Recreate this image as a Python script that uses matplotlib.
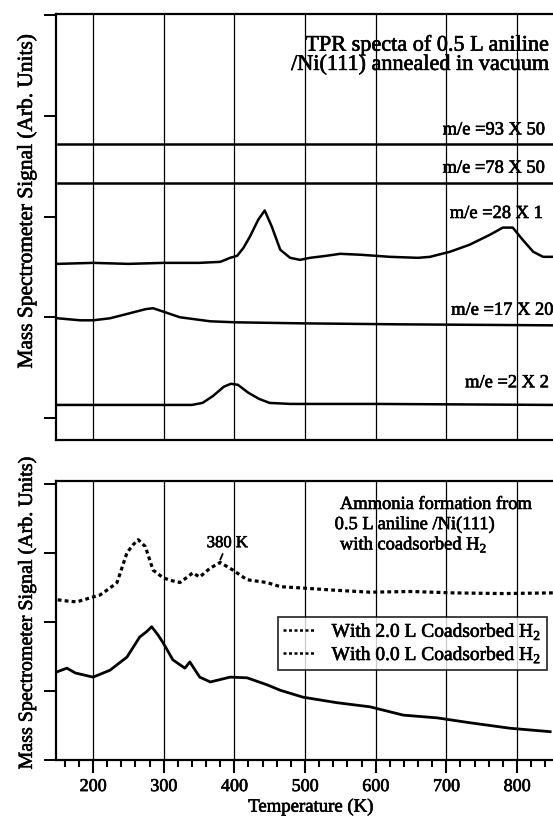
#TPR spectra of aniline on Ni(111): two stacked panels sharing a temperature axis.

import numpy as np
from matplotlib import pyplot as plt
from matplotlib.lines import Line2D
import matplotlib.patheffects as pe

#############################################################################################
#DATA
#############################################################################################

# top panel: flat traces
temp_flat = [150, 851]
me93 = [2.72, 2.72]
me78 = [2.33, 2.33]

# m/e = 28 X 1
temp_28 = [150, 200, 250, 300, 350, 380, 394, 404, 413, 422, 434, 443, 453, 465,
           479, 493, 507, 530, 550, 580, 620, 660, 677, 705, 733, 762, 780,
           794, 808, 823, 837, 851]
me28 = [1.53, 1.54, 1.53, 1.54, 1.54, 1.55, 1.59, 1.61, 1.69, 1.80, 1.97, 2.06, 1.90, 1.67,
        1.59, 1.57, 1.59, 1.61, 1.63, 1.62, 1.60, 1.59, 1.60, 1.65, 1.72, 1.82, 1.89,
        1.89, 1.77, 1.65, 1.60, 1.60]

# m/e = 17 X 20
temp_17 = [150, 182, 200, 224, 252, 274, 285, 302, 323, 366, 402, 493, 634, 851]
me17 = [0.99, 0.97, 0.97, 0.99, 1.04, 1.08, 1.09, 1.05, 1.00, 0.96, 0.95, 0.94, 0.93, 0.92]

# m/e = 2 X 2
temp_2 = [150, 250, 340, 355, 370, 385, 395, 405, 420, 435, 450, 480, 600, 851]
me2 = [0.13, 0.13, 0.13, 0.15, 0.22, 0.31, 0.34, 0.33, 0.25, 0.19, 0.15, 0.14, 0.14, 0.13]

# bottom panel: ammonia, with 2.0 L coadsorbed H2 (dotted)
temp_h2 = [150, 165, 177, 200, 210, 224, 234, 248, 257, 264, 274, 285, 299, 310,
           323, 335, 341, 351, 366, 380, 398, 418, 446, 465, 497, 540, 592, 650,
           709, 780, 851]
nh3_h2 = [2.32, 2.30, 2.29, 2.36, 2.39, 2.49, 2.57, 3.00, 3.12, 3.19, 3.09, 2.75, 2.64, 2.60,
          2.57, 2.66, 2.71, 2.65, 2.78, 2.86, 2.75, 2.61, 2.57, 2.51, 2.49, 2.46, 2.43, 2.44,
          2.42, 2.41, 2.42]

# bottom panel: ammonia, no coadsorbed H2 (solid)
temp_noh2 = [150, 163, 175, 200, 224, 248, 266, 276, 283, 292, 299, 313, 330, 337,
             351, 366, 394, 418, 446, 465, 497, 545, 592, 639, 687, 733, 790, 847]
nh3_noh2 = [1.28, 1.33, 1.26, 1.20, 1.30, 1.49, 1.78, 1.86, 1.93, 1.81, 1.70, 1.45, 1.33, 1.42,
            1.20, 1.13, 1.20, 1.19, 1.09, 1.01, 0.91, 0.83, 0.77, 0.65, 0.61, 0.54, 0.46, 0.41]

grid_temps = [200, 300, 400, 500, 600, 700, 800]
legend_labels = ['With 2.0 L Coadsorbed H$_2$', 'With 0.0 L Coadsorbed H$_2$']

#############################################################################################
#PLOTTING
#############################################################################################

plt.rcParams['font.family'] = ['Liberation Serif', 'DejaVu Serif']
plt.rcParams['mathtext.fontset'] = 'custom'
plt.rcParams['mathtext.rm'] = 'Liberation Serif'

# scanned print look: thicken the glyphs a little
heavy = [pe.withStroke(linewidth=0.45, foreground='black')]

W, H = 553, 817
fig = plt.figure(figsize=(W/100, H/100), dpi=100)

def px_axes(left, top, right, bottom):
    return fig.add_axes([left/W, 1-bottom/H, (right-left)/W, (bottom-top)/H])

ax1 = px_axes(56, 14, 553, 440)
ax2 = px_axes(56, 481, 553, 760)

for ax in (ax1, ax2):
    ax.set_xlim(147.6, 851)
    for s in ('left', 'top', 'bottom'):
        ax.spines[s].set_linewidth(1.6)
    ax.spines['right'].set_visible(False)
    for t in grid_temps:
        ax.axvline(t, color='black', lw=0.9, zorder=1)
    ax.tick_params(axis='y', direction='out', length=9, width=1.4, labelleft=False)

# top panel
ax1.set_ylim(-0.218, 4.01)
ax1.set_yticks([0, 1, 2, 3, 4])
ax1.tick_params(axis='x', bottom=False, labelbottom=False)
lw = 1.8
ax1.plot(temp_flat, me93, 'k-', lw=lw, zorder=3)
ax1.plot(temp_flat, me78, 'k-', lw=lw, zorder=3)
ax1.plot(temp_28, me28, 'k-', lw=lw, zorder=3)
ax1.plot(temp_17, me17, 'k-', lw=lw, zorder=3)
ax1.plot(temp_2, me2, 'k-', lw=lw, zorder=3)

ax1.text(846, 3.60, 'TPR specta of 0.5 L aniline\n/Ni(111) annealed in vacuum',
         ha='right', va='center', fontsize=16, linespacing=1.0, path_effects=heavy)
lab = dict(ha='right', va='center', fontsize=13.3, path_effects=heavy)
ax1.text(840, 2.86, 'm/e =93 X 50', **lab)
ax1.text(840, 2.48, 'm/e =78 X 50', **lab)
ax1.text(837, 2.03, 'm/e =28 X 1', **lab)
ax1.text(852, 1.07, 'm/e =17 X 20', **lab)
ax1.text(845, 0.35, 'm/e =2 X 2', **lab)

# bottom panel
ax2.set_ylim(0, 4.04)
ax2.set_yticks([0, 1, 2, 3, 4])
ax2.set_xticks(grid_temps)
ax2.set_xticks(np.arange(160, 851, 20), minor=True)
ax2.tick_params(axis='x', which='major', direction='out', length=9, width=1.5,
                labelsize=13, pad=4)
ax2.tick_params(axis='x', which='minor', direction='out', length=5, width=1.5)
for tl in ax2.get_xticklabels():
    tl.set_path_effects(heavy)

ax2.plot(temp_h2, nh3_h2, color='black', ls=(0, (1.2, 1.0)), lw=2.3, zorder=3)
ax2.plot(temp_noh2, nh3_noh2, 'k-', lw=2.0, zorder=3)

ax2.text(549.5, 3.70, 'Ammonia formation from', fontsize=13.3, va='center', path_effects=heavy)
ax2.text(542, 3.41, '0.5 L aniline /Ni(111)', fontsize=13.3, va='center', path_effects=heavy)
ax2.text(549.5, 3.12, 'with coadsorbed H$_2$', fontsize=13.3, va='center', path_effects=heavy)
ax2.annotate('380 K', xy=(380, 2.90), xytext=(390, 3.14), ha='center', va='center',
             fontsize=12, path_effects=heavy,
             arrowprops=dict(arrowstyle='-', lw=1.3, shrinkA=6, shrinkB=0))

handles = [Line2D([], [], color='black', ls=(0, (1.2, 1.0)), lw=1.8) for _ in legend_labels]
leg = ax2.legend(handles, legend_labels, loc='upper left', bbox_to_anchor=(0.447, 0.5125),
                 fontsize=14, frameon=True, fancybox=False, handlelength=1.6,
                 borderpad=0.25, labelspacing=0.15, handletextpad=0.9, borderaxespad=0)
leg.get_frame().set_edgecolor('black')
leg.get_frame().set_linewidth(1.3)
leg.set_zorder(5)
for txt in leg.get_texts():
    txt.set_path_effects(heavy)

fig.text(311/W, 1-807/H, 'Temperature (K)', ha='center', va='center', fontsize=13.5,
         path_effects=heavy)
fig.text(27/W, 1-201/H, 'Mass Spectrometer Signal (Arb. Units)', rotation=90,
         ha='center', va='center', fontsize=15.4, path_effects=heavy)
fig.text(27/W, 1-613/H, 'Mass Spectrometer Signal (Arb. Units)', rotation=90,
         ha='center', va='center', fontsize=14.4, path_effects=heavy)

fig.savefig('out.png', dpi=100)
